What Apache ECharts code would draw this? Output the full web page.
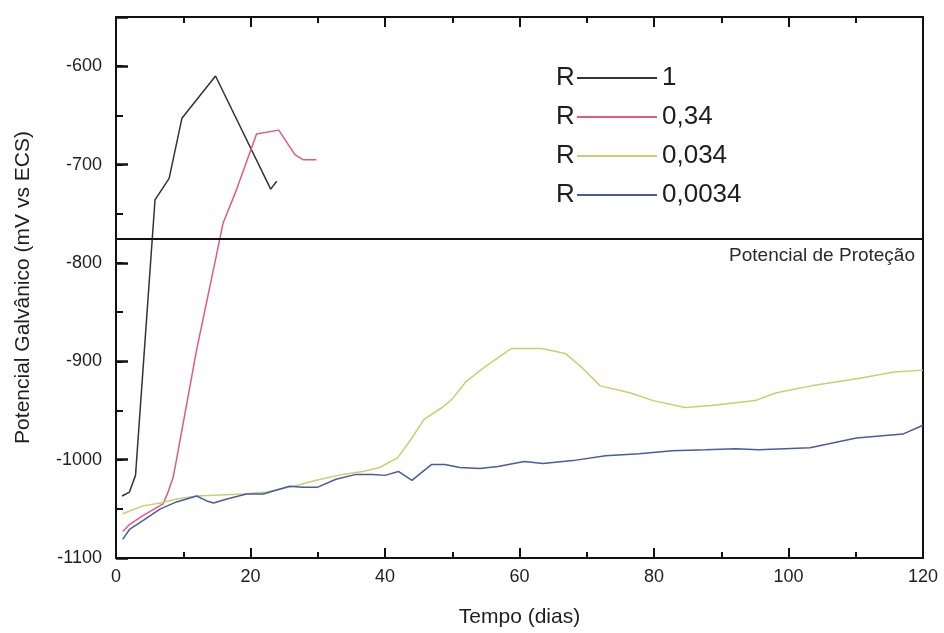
<!DOCTYPE html>
<html>
<head>
<meta charset="utf-8">
<script src="https://cdn.jsdelivr.net/npm/echarts@6/dist/echarts.min.js"></script>
<style>html,body{margin:0;padding:0;background:#fff}#c{width:944px;height:633px}</style>
</head>
<body>
<div id="c"></div>
<script>
// ---- data ----
const seriesNames = ['1', '0,34', '0,034', '0,0034'];
const xTicks = [0, 20, 40, 60, 80, 100, 120];
const yTicks = [-1100, -1000, -900, -800, -700, -600];
const protectionLevel = -775;
const protectionLabel = 'Potencial de Proteção';

const r1Days = [0.9, 2.0, 2.9, 5.8, 7.9, 9.8, 14.8, 23.0, 23.9];
const r1Vals = [-1037, -1033, -1016, -736, -714, -653, -610, -725, -717];

const r034Days = [1.0, 2.0, 4.0, 7.0, 7.8, 8.5, 9.0, 12.0, 15.0, 15.9, 17.9, 20.9, 24.2, 26.6, 27.8, 29.8];
const r034Vals = [-1073, -1066, -1057, -1045, -1032, -1018, -1000, -888, -790, -760, -726, -669, -665, -690, -695, -695];

const r0034Days = [1.0, 4.0, 6.6, 9.0, 12.0, 19.0, 22.4, 26.4, 29.8, 33.7, 36.7, 39.2, 41.9, 43.9, 45.8, 48.5, 49.9, 52.0, 54.6, 58.8, 63.3, 66.8, 69.4, 72.0, 76.4, 79.9, 84.6, 88.5, 92.5, 95.0, 98.2, 103.4, 110.8, 115.7, 120];
const r0034Vals = [-1055, -1047, -1044, -1040, -1037, -1035, -1033, -1027, -1021, -1015, -1012, -1008, -998, -979, -959, -947, -939, -921, -907, -887, -887, -892, -907, -925, -932, -940, -947, -945, -942, -940, -932, -925, -917, -911, -909];

const r00034Days = [1.0, 2.0, 4.0, 6.6, 9.0, 12.0, 13.5, 14.5, 16.5, 19.4, 21.9, 25.8, 27.8, 30.0, 32.7, 35.7, 38.2, 40.0, 42.0, 44.0, 46.9, 48.9, 51.1, 54.1, 56.8, 60.7, 63.5, 67.9, 72.8, 77.8, 82.7, 87.7, 92.1, 95.6, 103.2, 110.1, 117.0, 120];
const r00034Vals = [-1081, -1071, -1062, -1050, -1043, -1037, -1042, -1044, -1040, -1035, -1035, -1027, -1028, -1028, -1020, -1015, -1015, -1016, -1012, -1021, -1005, -1005, -1008, -1009, -1007, -1002, -1004, -1001, -996, -994, -991, -990, -989, -990, -988, -978, -974, -965];

// ---- chart ----
const zip = (a, b) => a.map((v, i) => [v, b[i]]);
const colors = ['#333333', '#e25a82', '#c9cf6e', '#4a5aa6'];
const FONT = 'Liberation Sans, Arial, sans-serif';
const txt = '#1e1e1e';

const chart = echarts.init(document.getElementById('c'), null, {renderer: 'canvas'});

function mkSeries(name, days, vals, idx, extra) {
  return Object.assign({
    name: name,
    type: 'line',
    data: zip(days, vals),
    symbol: 'none',
    smooth: false,
    lineStyle: {width: 1.5, color: colors[idx]},
    itemStyle: {color: colors[idx]},
    xAxisIndex: 0,
    yAxisIndex: 0,
    z: 3
  }, extra || {});
}

const legendRows = [78, 117, 156, 195];

chart.setOption({
  animation: false,
  textStyle: {fontFamily: FONT},
  grid: {left: 116, right: 21, top: 17, bottom: 74, containLabel: false},
  legend: {
    orient: 'vertical',
    left: 577,
    top: 65,
    padding: 0,
    itemGap: 13,
    itemWidth: 80,
    itemHeight: 2,
    icon: 'rect',
    data: seriesNames,
    textStyle: {fontSize: 26, lineHeight: 26, color: txt, fontFamily: FONT},
    selectedMode: false
  },
  graphic: legendRows.map(y => ({
    type: 'text',
    left: 556,
    top: y - 13,
    style: {text: 'R', fontSize: 26, lineHeight: 26, fill: txt, fontFamily: FONT}
  })),
  xAxis: [
    {
      type: 'value', min: 0, max: 120, interval: 20, position: 'bottom',
      name: 'Tempo (dias)', nameLocation: 'middle', nameGap: 49, nameMoveOverlap: false,
      nameTextStyle: {fontSize: 21, color: txt, fontFamily: FONT},
      axisLine: {show: true, onZero: false, lineStyle: {color: '#111', width: 2}},
      axisTick: {show: true, inside: true, length: 10, lineStyle: {color: '#111', width: 2}},
      minorTick: {show: true, splitNumber: 2, length: 6, lineStyle: {color: '#111', width: 2}},
      axisLabel: {fontSize: 18, color: txt, margin: 10, fontFamily: FONT,
        formatter: v => xTicks.includes(v) ? String(v) : ''},
      splitLine: {show: false}
    },
    {
      type: 'value', min: 0, max: 120, interval: 20, position: 'top',
      axisLine: {show: true, onZero: false, lineStyle: {color: '#111', width: 2}},
      axisTick: {show: true, inside: true, length: 10, lineStyle: {color: '#111', width: 2}},
      minorTick: {show: true, splitNumber: 2, length: 6, lineStyle: {color: '#111', width: 2}},
      axisLabel: {show: false},
      splitLine: {show: false}
    }
  ],
  yAxis: [
    {
      type: 'value', min: -1100, max: -550, interval: 100, position: 'left',
      name: 'Potencial Galvânico (mV vs ECS)', nameLocation: 'middle', nameGap: 82, nameMoveOverlap: false,
      nameTextStyle: {fontSize: 21, color: txt, fontFamily: FONT},
      axisLine: {show: true, onZero: false, lineStyle: {color: '#111', width: 2}},
      axisTick: {show: true, inside: true, length: 12, lineStyle: {color: '#111', width: 2.5}},
      axisLabel: {fontSize: 18, color: txt, margin: 14, fontFamily: FONT,
        formatter: v => yTicks.includes(v) ? String(v) : ''},
      splitLine: {show: false}
    },
    {
      type: 'value', min: -1100, max: -550, interval: 50, position: 'left',
      axisLine: {show: false},
      axisTick: {show: true, inside: true, length: 7, lineStyle: {color: '#111', width: 2}},
      axisLabel: {show: false},
      splitLine: {show: false}
    },
    {
      type: 'value', min: -1100, max: -550, position: 'right',
      axisLine: {show: true, onZero: false, lineStyle: {color: '#111', width: 2}},
      axisTick: {show: false},
      axisLabel: {show: false},
      splitLine: {show: false}
    }
  ],
  series: [
    mkSeries(seriesNames[0], r1Days, r1Vals, 0, {
      markLine: {
        silent: true,
        symbol: ['none', 'none'],
        lineStyle: {color: '#111', width: 1.8, type: 'solid'},
        label: {show: true, position: 'insideEndBottom', formatter: protectionLabel,
          fontSize: 19, color: '#2a2a2a', fontFamily: FONT, distance: [8, 8]},
        emphasis: {disabled: true},
        data: [{yAxis: protectionLevel}]
      }
    }),
    mkSeries(seriesNames[1], r034Days, r034Vals, 1),
    mkSeries(seriesNames[2], r0034Days, r0034Vals, 2),
    mkSeries(seriesNames[3], r00034Days, r00034Vals, 3)
  ]
});
</script>
</body>
</html>
